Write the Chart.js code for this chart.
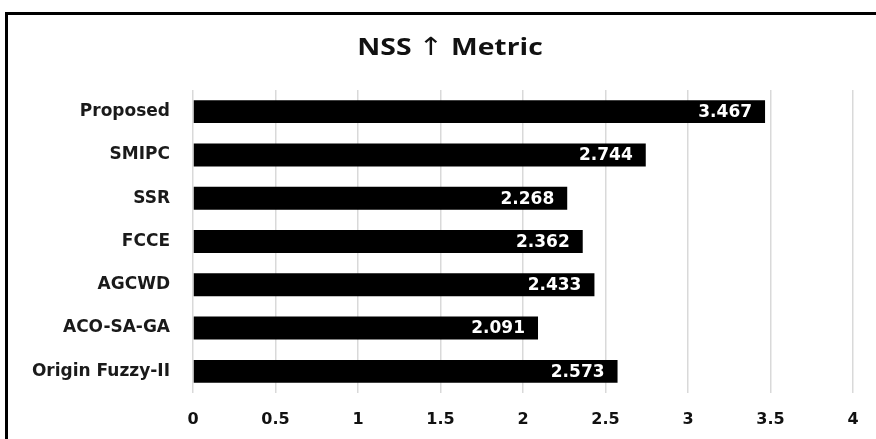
<!DOCTYPE html>
<html>
<head>
<meta charset="utf-8">
<script src="https://cdn.jsdelivr.net/npm/chart.js@4"></script>
<style>
  body { margin: 0; background: #fff; }
  #wrap { position: relative; width: 876px; height: 439px; overflow: hidden; }
  #frame {
    position: absolute; left: 5px; top: 12px; right: -10px; bottom: -10px;
    border-left: 3px solid #000; border-top: 3px solid #000;
  }
  canvas { position: absolute; left: 0; top: 0; }
</style>
</head>
<body>
<div id="wrap">
  <div id="frame"></div>
  <canvas id="nssChart" width="876" height="439"></canvas>
</div>
<script>
const methods = ['Proposed', 'SMIPC', 'SSR', 'FCCE', 'AGCWD', 'ACO-SA-GA', 'Origin Fuzzy-II'];
const nssValues = [3.467, 2.744, 2.268, 2.362, 2.433, 2.091, 2.573];
const xTicks = [0, 0.5, 1, 1.5, 2, 2.5, 3, 3.5, 4];
const titleParts = ['NSS ', '↑', ' Metric'];

const labelFont = '"DejaVu Sans", Verdana, sans-serif';

// white value text drawn inside the right end of each bar
const barValues = {
    id: 'barValues',
    afterDatasetsDraw(chart) {
        const ctx = chart.ctx;
        const meta = chart.getDatasetMeta(0);
        ctx.save();
        ctx.fillStyle = '#fff';
        ctx.font = 'bold 17px ' + labelFont;
        ctx.textAlign = 'right';
        ctx.textBaseline = 'middle';
        meta.data.forEach(function(bar, i) {
            ctx.fillText(nssValues[i].toFixed(3), bar.x - 13, bar.y + 1);
        });
        ctx.restore();
    }
};

// title with the arrow set in a font that has a full-height glyph for it,
// drawn slightly widened
const mixedTitle = {
    id: 'mixedTitle',
    afterDraw(chart) {
        const ctx = chart.ctx;
        const stretch = 1.18;
        const fonts = [
            'bold 24px "Open Sans", sans-serif',
            '25px "DejaVu Sans", sans-serif',
            'bold 24px "Open Sans", sans-serif'
        ];
        ctx.save();
        ctx.fillStyle = '#111';
        ctx.textBaseline = 'alphabetic';
        ctx.textAlign = 'left';
        let total = 0;
        const widths = titleParts.map(function(t, i) {
            ctx.font = fonts[i];
            const w = ctx.measureText(t).width;
            total += w;
            return w;
        });
        ctx.translate(450 - total * stretch / 2, 55);
        ctx.scale(stretch, 1);
        let x = 0;
        titleParts.forEach(function(t, i) {
            ctx.font = fonts[i];
            ctx.fillText(t, x, 0);
            x += widths[i];
        });
        ctx.restore();
    }
};

const ctx = document.getElementById('nssChart');
new Chart(ctx, {
    type: 'bar',
    data: {
        labels: methods,
        datasets: [
            {
                label: 'NSS',
                data: nssValues,
                backgroundColor: '#000',
                borderWidth: 0,
                barPercentage: 0.53,
                categoryPercentage: 1
            }
        ]
    },
    options: {
        indexAxis: 'y',
        responsive: false,
        animation: false,
        layout: {
            padding: { left: 0, right: 23, top: 90, bottom: 10 }
        },
        scales: {
            x: {
                min: 0,
                max: 4,
                afterBuildTicks: function(scale) {
                    scale.ticks = xTicks.map(function(v) { return { value: v }; });
                },
                afterFit: function(scale) { scale.height = 36; },
                grid: { color: '#d9d9d9', lineWidth: 1.5, drawTicks: false },
                border: { display: false },
                ticks: {
                    padding: 17,
                    color: '#111',
                    maxRotation: 0,
                    callback: function(value) { return String(value); },
                    font: { family: labelFont, weight: 'bold', size: 16 }
                }
            },
            y: {
                afterFit: function(scale) { scale.width = 193; },
                grid: { display: false, drawTicks: false },
                border: { display: false },
                ticks: {
                    padding: 23,
                    color: '#1a1a1a',
                    font: { family: labelFont, weight: 'bold', size: 17 }
                }
            }
        },
        plugins: {
            legend: { display: false },
            tooltip: { enabled: false },
            title: { display: false }
        }
    },
    plugins: [barValues, mixedTitle]
});
</script>
</body>
</html>
